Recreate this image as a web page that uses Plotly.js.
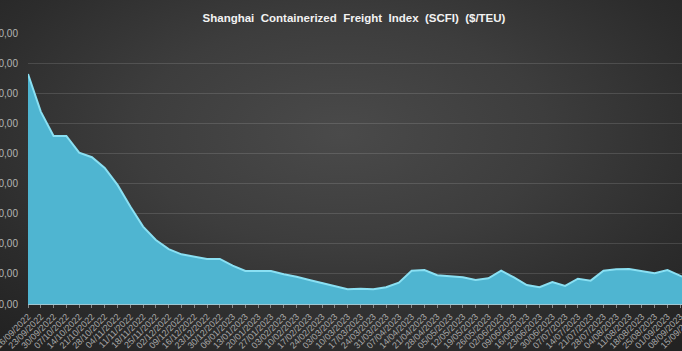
<!DOCTYPE html>
<html>
<head>
<meta charset="utf-8">
<script src="https://cdn.plot.ly/plotly-3.0.1.min.js"></script>
<style>
  html, body { margin:0; padding:0; width:682px; height:351px; overflow:hidden; }
  body { background: radial-gradient(ellipse 75% 80% at 50% 38%, #4a4a4a 0%, #3d3d3d 40%, #2c2c2c 75%, #222 100%); position:relative; }
  #chart { position:absolute; left:-40px; top:0; width:780px; height:351px; }
</style>
</head>
<body>
<div id="chart"></div>
<script>
const dates = ["16/09/2022","23/09/2022","30/09/2022","07/10/2022","14/10/2022","21/10/2022","28/10/2022","04/11/2022","11/11/2022","18/11/2022","25/11/2022","02/12/2022","09/12/2022","16/12/2022","23/12/2022","30/12/2022","06/01/2023","13/01/2023","20/01/2023","27/01/2023","03/02/2023","10/02/2023","17/02/2023","24/02/2023","03/03/2023","10/03/2023","17/03/2023","24/03/2023","31/03/2023","07/04/2023","14/04/2023","21/04/2023","28/04/2023","05/05/2023","12/05/2023","19/05/2023","26/05/2023","02/06/2023","09/06/2023","16/06/2023","23/06/2023","30/06/2023","07/07/2023","14/07/2023","21/07/2023","28/07/2023","04/08/2023","11/08/2023","18/08/2023","25/08/2023","01/09/2023","08/09/2023","15/09/2023"];
const scfi = [2328,2078,1916,1916,1805,1775,1704,1591,1447,1314,1225,1165,1130,1114,1099,1099,1055,1019,1019,1019,997,981,959,938,920,898,902,898,911,942,1021,1026,991,986,977,959,971,1021,977,926,911,946,920,968,955,1021,1031,1033,1021,1004,1026,986,950];
const yTicks = [800,1000,1200,1400,1600,1800,2000,2200,2400,2600];
const titleText = "Shanghai  Containerized  Freight  Index  (SCFI)  ($/TEU)";

const trace = {
  x: dates, y: scfi, type: 'scatter', mode: 'lines',
  fill: 'tozeroy', fillcolor: '#4fb5d1',
  line: {color: '#8ae0f3', width: 2},
  hoverinfo: 'skip'
};
const layout = {
  width: 780, height: 351,
  paper_bgcolor: 'rgba(0,0,0,0)', plot_bgcolor: 'rgba(0,0,0,0)',
  margin: {l: 67.5, r: 46.9, t: 32.5, b: 47},
  separators: ',.',
  showlegend: false,
  title: {text: titleText, x: 394/780, xref: 'container', xanchor: 'center',
          y: 1 - 18.3/351, yref: 'container', yanchor: 'middle',
          font: {family: 'Liberation Sans, Arial, sans-serif', size: 11.5, color: '#f2f2f2', weight: 'bold'}},
  xaxis: {type: 'category', range: [0, 52], tickmode: 'array', tickvals: dates, ticktext: dates,
          tickangle: -45, tickfont: {family: 'Liberation Sans, Arial, sans-serif', size: 9, color: '#a8a8a8'},
          ticks: 'outside', ticklen: 3, tickcolor: '#8a8a8a', showgrid: false, zeroline: false,
          showline: true, linecolor: '#9fc6d2', linewidth: 1, fixedrange: true},
  yaxis: {range: [800, 2600], tickmode: 'array', tickvals: yTicks, tickformat: '.2f',
          tickfont: {family: 'Liberation Sans, Arial, sans-serif', size: 10, color: '#b4b4b4'},
          showgrid: true, gridcolor: 'rgba(255,255,255,0.13)', gridwidth: 1, zeroline: false,
          showline: false, ticks: '', ticklabelstandoff: 9, fixedrange: true}
};
Plotly.newPlot('chart', [trace], layout, {staticPlot: true, displayModeBar: false});
</script>
</body>
</html>
